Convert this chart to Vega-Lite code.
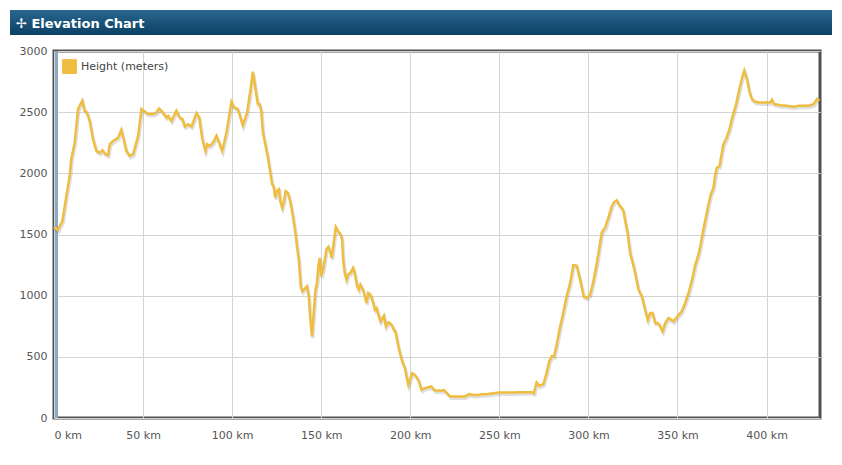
{
  "$schema": "https://vega.github.io/schema/vega-lite/v6.json",
  "background": "white",
  "padding": {"left": 10, "top": 10, "right": 10, "bottom": 5},
  "bounds": "full",
  "spacing": 8,
  "resolve": {"legend": {"color": "independent"}, "scale": {"color": "independent"}},
  "config": {
    "font": "DejaVu Sans",
    "view": {"stroke": null}
  },
  "vconcat": [
    {
      "width": 822,
      "height": 25,
      "data": {"values": [{"t": "header"}]},
      "mark": {
        "type": "rect",
        "fill": {
          "gradient": "linear",
          "x1": 0, "y1": 0, "x2": 0, "y2": 1,
          "stops": [
            {"offset": 0, "color": "#2a6690"},
            {"offset": 1, "color": "#0b4163"}
          ]
        }
      },
      "encoding": {},
      "title": {
        "text": "✢ Elevation Chart",
        "anchor": "start",
        "orient": "bottom",
        "frame": "group",
        "offset": -17,
        "baseline": "top",
        "dx": 6,
        "color": "white",
        "font": "DejaVu Sans",
        "fontSize": 13,
        "fontWeight": "bold"
      }
    },
    {
      "spacing": 6,
      "bounds": "full",
      "resolve": {"legend": {"color": "independent"}, "scale": {"color": "independent"}},
      "hconcat": [
        {
          "width": 1,
          "height": 367,
          "data": {"values": []},
          "mark": "point",
          "encoding": {}
        },
        {
          "width": 766,
          "height": 367,
          "view": {"stroke": "#505050", "strokeWidth": 3},
          "data": {
            "values": [
              {"km": 0.0, "m": 1560}, {"km": 0.4, "m": 1555}, {"km": 2.2, "m": 1536}, {"km": 4.7, "m": 1609},
              {"km": 6.9, "m": 1814}, {"km": 8.8, "m": 1978}, {"km": 9.7, "m": 2115}, {"km": 11.6, "m": 2251},
              {"km": 13.5, "m": 2525}, {"km": 14.4, "m": 2552}, {"km": 15.9, "m": 2593}, {"km": 17.2, "m": 2511},
              {"km": 18.5, "m": 2497}, {"km": 20.0, "m": 2429}, {"km": 21.9, "m": 2279}, {"km": 23.8, "m": 2183},
              {"km": 25.7, "m": 2169}, {"km": 27.2, "m": 2189}, {"km": 29.0, "m": 2156}, {"km": 30.3, "m": 2148},
              {"km": 31.3, "m": 2238}, {"km": 33.2, "m": 2265}, {"km": 36.0, "m": 2292}, {"km": 37.8, "m": 2355},
              {"km": 39.1, "m": 2279}, {"km": 40.6, "m": 2183}, {"km": 42.5, "m": 2142}, {"km": 44.4, "m": 2156},
              {"km": 47.2, "m": 2306}, {"km": 49.1, "m": 2525}, {"km": 50.4, "m": 2511}, {"km": 52.8, "m": 2484},
              {"km": 55.6, "m": 2484}, {"km": 57.5, "m": 2497}, {"km": 59.0, "m": 2530}, {"km": 61.2, "m": 2497},
              {"km": 63.1, "m": 2456}, {"km": 64.1, "m": 2470}, {"km": 65.9, "m": 2429}, {"km": 68.7, "m": 2511},
              {"km": 70.6, "m": 2456}, {"km": 72.1, "m": 2443}, {"km": 73.4, "m": 2383}, {"km": 75.3, "m": 2402},
              {"km": 77.2, "m": 2383}, {"km": 80.0, "m": 2492}, {"km": 81.5, "m": 2456}, {"km": 83.3, "m": 2279},
              {"km": 85.0, "m": 2183}, {"km": 86.0, "m": 2238}, {"km": 87.5, "m": 2224}, {"km": 89.3, "m": 2251},
              {"km": 91.2, "m": 2306}, {"km": 92.7, "m": 2251}, {"km": 94.4, "m": 2183}, {"km": 96.8, "m": 2333},
              {"km": 99.6, "m": 2585}, {"km": 101.3, "m": 2538}, {"km": 103.2, "m": 2525}, {"km": 106.0, "m": 2393},
              {"km": 108.3, "m": 2492}, {"km": 110.1, "m": 2661}, {"km": 111.6, "m": 2831}, {"km": 113.1, "m": 2689},
              {"km": 114.4, "m": 2566}, {"km": 115.4, "m": 2566}, {"km": 116.3, "m": 2511}, {"km": 117.3, "m": 2333},
              {"km": 118.8, "m": 2224}, {"km": 120.1, "m": 2128}, {"km": 121.4, "m": 2006}, {"km": 122.5, "m": 1910},
              {"km": 123.3, "m": 1896}, {"km": 124.2, "m": 1801}, {"km": 125.1, "m": 1855}, {"km": 126.3, "m": 1869},
              {"km": 127.0, "m": 1773}, {"km": 128.1, "m": 1719}, {"km": 129.1, "m": 1773}, {"km": 130.0, "m": 1855},
              {"km": 131.3, "m": 1842}, {"km": 132.6, "m": 1773}, {"km": 134.1, "m": 1650}, {"km": 135.5, "m": 1514},
              {"km": 136.4, "m": 1404}, {"km": 137.5, "m": 1282}, {"km": 138.5, "m": 1077}, {"km": 139.4, "m": 1036},
              {"km": 140.7, "m": 1055}, {"km": 142.0, "m": 1077}, {"km": 143.0, "m": 995}, {"km": 143.9, "m": 803},
              {"km": 144.8, "m": 667}, {"km": 145.8, "m": 858}, {"km": 146.7, "m": 1036}, {"km": 147.6, "m": 1104},
              {"km": 148.4, "m": 1241}, {"km": 149.2, "m": 1309}, {"km": 149.9, "m": 1159}, {"km": 151.0, "m": 1213},
              {"km": 152.0, "m": 1295}, {"km": 152.9, "m": 1377}, {"km": 154.0, "m": 1399}, {"km": 155.2, "m": 1355},
              {"km": 155.9, "m": 1309}, {"km": 157.0, "m": 1432}, {"km": 158.2, "m": 1560}, {"km": 159.5, "m": 1527},
              {"km": 161.0, "m": 1500}, {"km": 161.7, "m": 1459}, {"km": 162.3, "m": 1295}, {"km": 163.2, "m": 1186},
              {"km": 164.2, "m": 1131}, {"km": 165.1, "m": 1172}, {"km": 166.4, "m": 1186}, {"km": 167.9, "m": 1227},
              {"km": 168.8, "m": 1186}, {"km": 170.2, "m": 1077}, {"km": 171.1, "m": 1049}, {"km": 172.0, "m": 1090},
              {"km": 173.5, "m": 1049}, {"km": 174.5, "m": 995}, {"km": 175.4, "m": 940}, {"km": 176.4, "m": 1022},
              {"km": 177.7, "m": 1008}, {"km": 179.2, "m": 940}, {"km": 180.1, "m": 885}, {"km": 181.0, "m": 899},
              {"km": 182.4, "m": 831}, {"km": 183.3, "m": 790}, {"km": 184.4, "m": 817}, {"km": 185.2, "m": 836},
              {"km": 186.3, "m": 749}, {"km": 187.6, "m": 782}, {"km": 188.5, "m": 776}, {"km": 189.9, "m": 754},
              {"km": 190.8, "m": 721}, {"km": 191.7, "m": 708}, {"km": 192.9, "m": 612}, {"km": 194.2, "m": 530},
              {"km": 195.5, "m": 462}, {"km": 197.0, "m": 407}, {"km": 197.9, "m": 339}, {"km": 198.9, "m": 271},
              {"km": 199.8, "m": 312}, {"km": 201.1, "m": 366}, {"km": 202.6, "m": 353}, {"km": 204.5, "m": 312},
              {"km": 206.4, "m": 230}, {"km": 208.2, "m": 244}, {"km": 210.1, "m": 252}, {"km": 211.8, "m": 258},
              {"km": 213.7, "m": 225}, {"km": 215.6, "m": 225}, {"km": 217.4, "m": 222}, {"km": 218.8, "m": 230},
              {"km": 220.3, "m": 208}, {"km": 222.5, "m": 175}, {"km": 224.9, "m": 175}, {"km": 227.8, "m": 175},
              {"km": 230.6, "m": 175}, {"km": 233.0, "m": 195}, {"km": 235.3, "m": 189}, {"km": 238.1, "m": 189},
              {"km": 240.0, "m": 195}, {"km": 242.8, "m": 195}, {"km": 246.5, "m": 203}, {"km": 250.3, "m": 208},
              {"km": 254.0, "m": 208}, {"km": 257.8, "m": 208}, {"km": 261.5, "m": 211}, {"km": 265.3, "m": 211},
              {"km": 268.1, "m": 211}, {"km": 269.4, "m": 203}, {"km": 270.9, "m": 290}, {"km": 272.4, "m": 263},
              {"km": 274.7, "m": 277}, {"km": 276.5, "m": 367}, {"km": 278.0, "m": 463}, {"km": 279.4, "m": 504},
              {"km": 280.7, "m": 504}, {"km": 282.2, "m": 600}, {"km": 284.0, "m": 737}, {"km": 285.9, "m": 860},
              {"km": 287.8, "m": 997}, {"km": 289.7, "m": 1100}, {"km": 291.5, "m": 1249}, {"km": 293.4, "m": 1246},
              {"km": 295.3, "m": 1133}, {"km": 297.4, "m": 993}, {"km": 299.1, "m": 981}, {"km": 300.9, "m": 1008},
              {"km": 302.8, "m": 1118}, {"km": 304.9, "m": 1280}, {"km": 307.5, "m": 1516}, {"km": 309.4, "m": 1557},
              {"km": 311.5, "m": 1652}, {"km": 313.1, "m": 1732}, {"km": 314.4, "m": 1765}, {"km": 315.9, "m": 1780},
              {"km": 317.6, "m": 1735}, {"km": 318.7, "m": 1719}, {"km": 319.7, "m": 1691}, {"km": 320.6, "m": 1615},
              {"km": 321.9, "m": 1519}, {"km": 323.4, "m": 1350}, {"km": 324.9, "m": 1268}, {"km": 326.2, "m": 1186},
              {"km": 328.1, "m": 1049}, {"km": 330.0, "m": 995}, {"km": 331.8, "m": 885}, {"km": 333.3, "m": 803},
              {"km": 334.7, "m": 858}, {"km": 336.0, "m": 858}, {"km": 337.5, "m": 776}, {"km": 338.8, "m": 776},
              {"km": 339.9, "m": 762}, {"km": 341.6, "m": 708}, {"km": 343.1, "m": 776}, {"km": 345.0, "m": 817},
              {"km": 345.9, "m": 809}, {"km": 347.8, "m": 790}, {"km": 350.0, "m": 831}, {"km": 352.4, "m": 872},
              {"km": 354.3, "m": 940}, {"km": 356.2, "m": 1022}, {"km": 358.1, "m": 1125}, {"km": 359.9, "m": 1248},
              {"km": 361.8, "m": 1337}, {"km": 362.8, "m": 1404}, {"km": 364.2, "m": 1514}, {"km": 365.5, "m": 1609},
              {"km": 367.4, "m": 1746}, {"km": 368.7, "m": 1828}, {"km": 370.2, "m": 1883}, {"km": 371.2, "m": 1990},
              {"km": 372.1, "m": 2046}, {"km": 373.6, "m": 2060}, {"km": 374.9, "m": 2169}, {"km": 375.8, "m": 2238},
              {"km": 377.6, "m": 2292}, {"km": 379.2, "m": 2361}, {"km": 380.5, "m": 2443}, {"km": 381.8, "m": 2511},
              {"km": 382.9, "m": 2566}, {"km": 384.3, "m": 2661}, {"km": 386.1, "m": 2771}, {"km": 387.5, "m": 2839},
              {"km": 389.0, "m": 2771}, {"km": 390.5, "m": 2661}, {"km": 391.8, "m": 2607}, {"km": 393.6, "m": 2585},
              {"km": 396.4, "m": 2579}, {"km": 399.8, "m": 2579}, {"km": 402.1, "m": 2579}, {"km": 403.0, "m": 2601},
              {"km": 404.3, "m": 2566}, {"km": 407.7, "m": 2557}, {"km": 411.4, "m": 2552}, {"km": 415.2, "m": 2544},
              {"km": 418.0, "m": 2552}, {"km": 420.8, "m": 2552}, {"km": 423.6, "m": 2552}, {"km": 426.4, "m": 2566},
              {"km": 428.3, "m": 2607}, {"km": 429.8, "m": 2593}
            ]
          },
          "encoding": {
            "x": {
              "field": "km",
              "type": "quantitative",
              "scale": {"domain": [0, 430], "nice": false, "zero": false},
              "axis": {
                "title": null,
                "values": [0, 50, 100, 150, 200, 250, 300, 350, 400],
                "labelExpr": "datum.value + ' km'",
                "grid": true,
                "gridColor": "#d4d4d4",
                "domain": false,
                "ticks": false,
                "labelPadding": 11,
                "labelFontSize": 11,
                "labelColor": "#555555",
                "labelFont": "DejaVu Sans"
              }
            },
            "y": {
              "field": "m",
              "type": "quantitative",
              "scale": {"domain": [0, 3000], "nice": false},
              "axis": {
                "title": null,
                "values": [0, 500, 1000, 1500, 2000, 2500, 3000],
                "format": "d",
                "grid": true,
                "gridColor": "#d4d4d4",
                "domain": false,
                "ticks": false,
                "labelPadding": 7,
                "minExtent": 34,
                "labelFontSize": 11,
                "labelColor": "#555555",
                "labelFont": "DejaVu Sans"
              }
            }
          },
          "layer": [
            {
              "mark": {"type": "rule", "color": "#8aaac4", "strokeWidth": 2, "xOffset": 2.5},
              "encoding": {"x": {"datum": 0}, "y": null}
            },
            {
              "mark": {"type": "line", "color": "#000000", "opacity": 0.12, "strokeWidth": 3, "xOffset": 1, "yOffset": 2}
            },
            {
              "mark": {"type": "line", "strokeWidth": 2.5},
              "encoding": {
                "color": {
                  "datum": "Height (meters)",
                  "type": "nominal",
                  "scale": {"range": ["#efbd3f"]},
                  "legend": {
                    "title": null,
                    "orient": "top-left",
                    "offset": 8,
                    "padding": 0,
                    "symbolType": "square",
                    "symbolSize": 190,
                    "symbolStrokeWidth": 1,
                    "labelFontSize": 11,
                    "labelColor": "#444444",
                    "labelFont": "DejaVu Sans",
                    "labelOffset": 4,
                    "encode": {
                      "symbols": {
                        "update": {
                          "fill": {"value": "#efbd3f"},
                          "stroke": {"value": "#c8c8c8"},
                          "strokeWidth": {"value": 1}
                        }
                      }
                    }
                  }
                }
              }
            }
          ]
        }
      ]
    }
  ]
}
